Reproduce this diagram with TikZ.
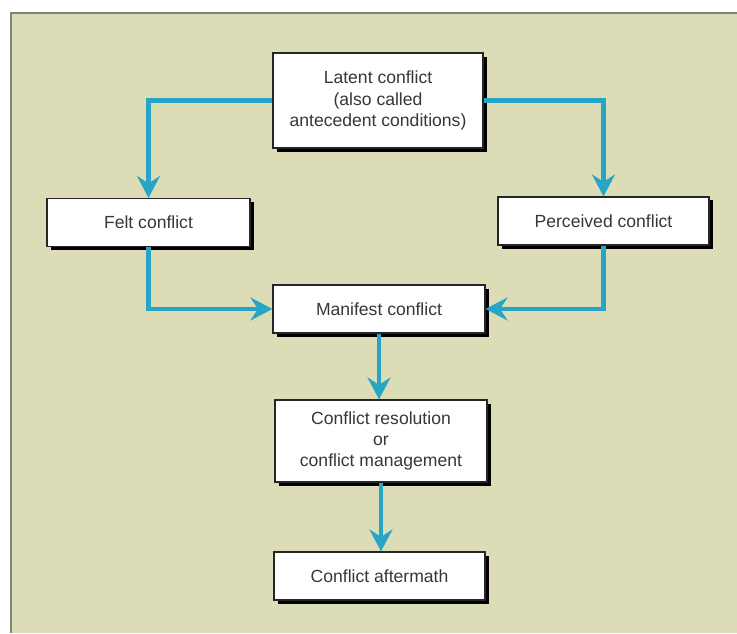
\documentclass[tikz,border=0pt]{standalone}
\usepackage{fontspec}
\setmainfont{Liberation Sans}
\usetikzlibrary{arrows.meta,shadows}
\definecolor{panelbg}{RGB}{220,220,182}
\definecolor{panelline}{RGB}{128,130,118}
\definecolor{flowblue}{RGB}{38,166,196}
\definecolor{textgray}{RGB}{55,55,55}
\begin{document}
\begin{tikzpicture}[
  box/.style={draw=black!85, line width=0.6pt, fill=white, text=textgray, align=center,
    font=\fontsize{10}{12}\selectfont, minimum width=4.22cm, minimum height=0.96cm, inner sep=0pt,
    drop shadow={shadow xshift=0.07cm, shadow yshift=-0.07cm, opacity=1, fill=black}},
  flow/.style={draw=flowblue, line width=2.3pt,
    -{Stealth[length=0.44cm, width=0.46cm, inset=0.15cm]}}
]
\useasboundingbox (0,0) rectangle (14.74,12.66);
\fill[panelbg] (0.22,0) rectangle (14.74,12.4);
\draw[panelline, line width=1.5pt] (0.22,0) -- (0.22,12.4) -- (14.74,12.4);
% boxes
\node[box, minimum width=4.2cm, minimum height=1.9cm] (latent) at (7.56,10.65)
  {Latent conflict\\(also called\\antecedent conditions)};
\node[box, minimum width=4.06cm] (felt) at (2.97,8.21) {Felt conflict};
\node[box] (perceived) at (12.07,8.24) {Perceived conflict};
\node[box, minimum width=4.24cm] (manifest) at (7.58,6.48) {Manifest conflict};
\node[box, minimum width=4.24cm, minimum height=1.64cm] (resolution) at (7.62,3.84)
  {Conflict resolution\\or\\conflict management};
\node[box] (aftermath) at (7.59,1.14) {Conflict aftermath};
% connectors
\draw[flow] (latent.west) -| (felt.north);
\draw[flow] (latent.east) -| (perceived.north);
\draw[flow] (felt.south) |- (manifest.west);
\draw[flow] (perceived.south) |- (manifest.east);
\draw[flow] (manifest.south) -- (manifest.south |- resolution.north);
\draw[flow] (resolution.south) -- (resolution.south |- aftermath.north);
\end{tikzpicture}
\end{document}
